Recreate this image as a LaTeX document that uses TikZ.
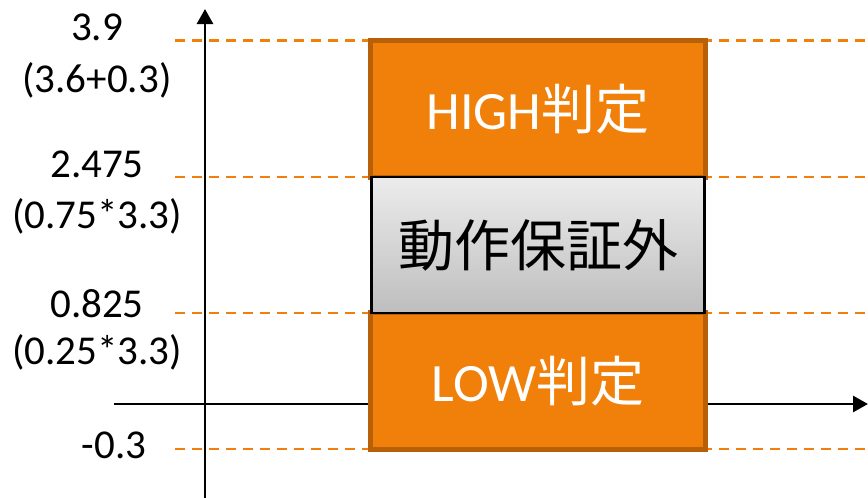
\documentclass[tikz,border=0pt]{standalone}
\usepackage{fontspec}
\setmainfont{Carlito}
\newfontfamily\jp{Noto Sans CJK JP}
\usetikzlibrary{arrows.meta}
\definecolor{orfill}{RGB}{240,128,10}
\definecolor{orline}{RGB}{184,96,8}
\definecolor{gtop}{RGB}{236,236,236}
\definecolor{gbot}{RGB}{190,190,190}
\tikzset{
  guide/.style={draw=orfill, line width=2.2pt, dash pattern=on 10pt off 7pt},
  axisline/.style={draw=black, line width=2.8pt, -{Triangle[length=15pt,width=16pt]}},
  lab/.style={anchor=base, inner sep=0pt, font=\fontsize{41}{48}\selectfont},
  obox/.style={draw=orline, fill=orfill, line width=5pt, inner sep=0pt, minimum width=335pt, minimum height=136.5pt, text=white},
  gbox/.style={draw=black, line width=2.4pt, top color=gtop, bottom color=gbot, inner sep=0pt, minimum width=333pt, minimum height=136pt},
}
\begin{document}
\begin{tikzpicture}[x=1pt,y=-1pt]
\useasboundingbox (0,0) rectangle (868,498);
% guides
\coordinate (g1a) at (175,40.5); \coordinate (g1b) at (868,40.5);
\coordinate (g2a) at (175,177); \coordinate (g2b) at (868,177);
\coordinate (g3a) at (175,313); \coordinate (g3b) at (868,313);
\coordinate (g4a) at (175,449); \coordinate (g4b) at (868,449);
\draw[guide] (g1a) -- (g1b);
\draw[guide] (g2a) -- (g2b);
\draw[guide] (g3a) -- (g3b);
\draw[guide] (g4a) -- (g4b);
% axes
\coordinate (ya) at (205,498); \coordinate (yb) at (205,9);
\coordinate (xa) at (114,404); \coordinate (xb) at (868,404);
\draw[axisline] (ya) -- (yb);
\draw[axisline] (xa) -- (xb);
% boxes
\node[obox] (high) at (538,108.75) {\fontsize{54}{60}\selectfont HIGH{\jp 判定}};
\node[obox] (low) at (538,381) {\fontsize{54}{60}\selectfont LOW{\jp 判定}};
\node[gbox] (mid) at (538,245) {\jp\fontsize{56}{64}\selectfont 動作保証外};
% labels
\node[lab] (l1) at (97,40) {3.9};
\node[lab] (l1b) at (97,92) {(3.6+0.3)};
\node[lab] (l2) at (97,177) {2.475};
\node[lab] (l2b) at (97,228) {(0.75*3.3)};
\node[lab] (l3) at (97,317) {0.825};
\node[lab] (l3b) at (97,364) {(0.25*3.3)};
\node[lab] (l4) at (114,458) {-0.3};
\end{tikzpicture}
\end{document}
